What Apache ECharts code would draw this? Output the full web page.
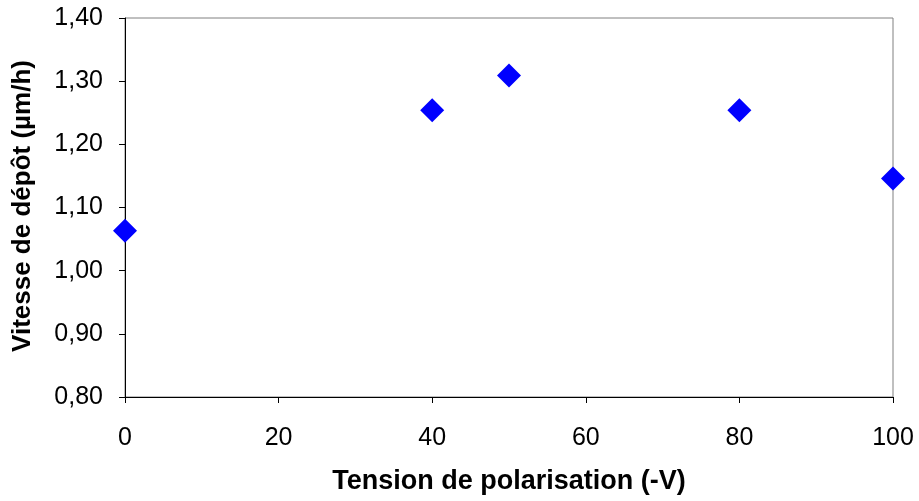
<!DOCTYPE html>
<html><head><meta charset="utf-8">
<script src="https://cdn.jsdelivr.net/npm/echarts@6/dist/echarts.min.js"></script>
<style>html,body{margin:0;padding:0;background:#fff}#c{width:919px;height:501px}</style>
</head><body><div id="c"></div>
<script>
const tension = [0, 40, 50, 80, 100];
const vitesse = [1.063, 1.254, 1.309, 1.254, 1.146];
const xTitle = 'Tension de polarisation (-V)';
const yTitle = 'Vitesse de dépôt (µm/h)';

const chart = echarts.init(document.getElementById('c'), null, {renderer: 'canvas'});
const font = 'Liberation Sans, Arial, sans-serif';
chart.setOption({
  animation: false,
  backgroundColor: '#fff',
  grid: {left: 125, top: 18, right: 26, bottom: 104, show: true, borderColor: '#808080', borderWidth: 1,
         containLabel: false, outerBoundsMode: 'none'},
  xAxis: {
    type: 'value', min: 0, max: 100, interval: 20,
    name: xTitle, nameLocation: 'middle', nameGap: 71,
    nameTextStyle: {fontFamily: font, fontSize: 27, fontWeight: 'bold', color: '#000'},
    axisLine: {show: true, onZero: false, lineStyle: {color: '#000', width: 1}},
    axisTick: {show: true, length: 6, lineStyle: {color: '#000'}},
    axisLabel: {fontFamily: font, fontSize: 25, color: '#000', margin: 29},
    splitLine: {show: false}
  },
  yAxis: {
    type: 'value', min: 0.8, max: 1.4, interval: 0.1,
    axisLine: {show: true, lineStyle: {color: '#000', width: 1}},
    axisTick: {show: true, length: 6, lineStyle: {color: '#000'}},
    axisLabel: {fontFamily: font, fontSize: 25, color: '#000', margin: 22,
      formatter: v => v.toFixed(2).replace('.', ',')},
    splitLine: {show: false}
  },
  graphic: [{
    type: 'text', x: 23, y: 206, rotation: Math.PI / 2,
    style: {text: yTitle, fontFamily: font, fontSize: 26, fontWeight: 'bold', fill: '#000',
            align: 'center', verticalAlign: 'middle'}
  }],
  series: [{
    type: 'scatter',
    data: tension.map((t, i) => [t, vitesse[i]]),
    symbol: 'diamond', symbolSize: 24,
    itemStyle: {color: '#0000ff', opacity: 1}
  }]
});
</script></body></html>
